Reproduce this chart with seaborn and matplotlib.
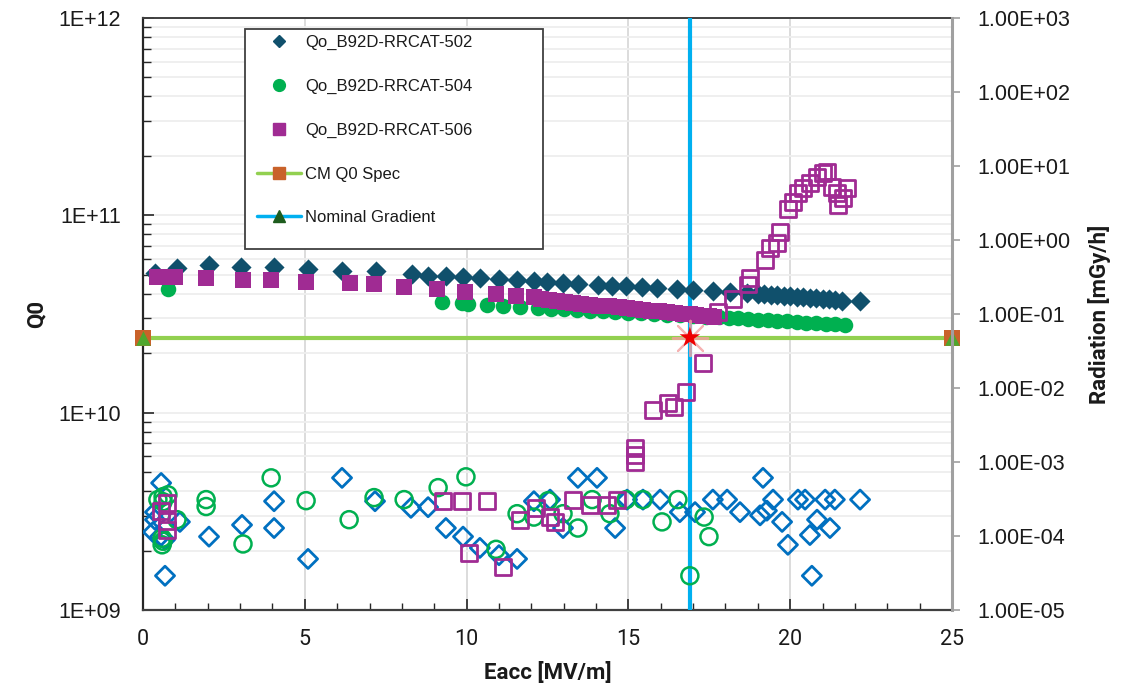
import numpy as np
import matplotlib
matplotlib.use("Agg")
import matplotlib.pyplot as plt
import seaborn as sns
from matplotlib.lines import Line2D
from matplotlib.patches import Rectangle
from matplotlib.ticker import LogLocator, FuncFormatter, MultipleLocator, NullLocator

# ---------------------------------------------------------------- data
# Q0 vs accelerating gradient (left axis, units of 1e10)
eacc_502 = [0.37, 1.05, 2.04, 3.03, 4.05, 5.10, 6.15, 7.20, 8.31, 8.81, 9.36, 9.89,
            10.41, 11.00, 11.56, 12.08, 12.48, 12.98, 13.44, 14.06, 14.49, 14.93,
            15.42, 15.88, 16.50, 17.00, 17.61, 18.14, 18.67, 19.00, 19.20, 19.40,
            19.60, 19.80, 20.00, 20.20, 20.40, 20.60, 20.80, 21.00, 21.20, 21.40,
            21.60, 22.16]
q0_502 = np.array([5.10, 5.40, 5.60, 5.50, 5.50, 5.35, 5.20, 5.20, 5.05, 4.95, 4.90, 4.85,
                   4.80, 4.75, 4.70, 4.65, 4.60, 4.55, 4.50, 4.45, 4.40, 4.40,
                   4.35, 4.30, 4.25, 4.20, 4.15, 4.10, 4.05, 4.00, 4.00, 3.95,
                   3.95, 3.90, 3.90, 3.85, 3.85, 3.80, 3.80, 3.75, 3.75, 3.72,
                   3.70, 3.70]) * 1e10

eacc_504 = [0.77, 9.24, 9.86, 10.04, 10.63, 11.12, 11.65, 12.20, 12.60, 13.00, 13.40,
            13.80, 14.20, 14.60, 15.00, 15.40, 15.80, 16.20, 16.60, 17.00, 17.40,
            17.80, 18.10, 18.40, 18.70, 19.00, 19.30, 19.60, 19.90, 20.20, 20.50,
            20.80, 21.10, 21.40, 21.70]
q0_504 = np.array([4.24, 3.64, 3.60, 3.57, 3.53, 3.49, 3.45, 3.40, 3.37, 3.34, 3.31,
                   3.28, 3.26, 3.23, 3.20, 3.18, 3.15, 3.13, 3.11, 3.09, 3.07,
                   3.05, 3.02, 3.00, 2.98, 2.96, 2.94, 2.92, 2.90, 2.88, 2.86,
                   2.84, 2.82, 2.80, 2.78]) * 1e10

eacc_506 = [0.43, 0.74, 0.99, 1.95, 3.09, 3.96, 5.04, 6.40, 7.14, 8.07, 9.09, 9.95,
            10.91, 11.53, 12.08, 12.30, 12.55, 12.80, 13.05, 13.30, 13.55, 13.80,
            14.10, 14.40, 14.70, 14.95, 15.20, 15.45, 15.70, 15.95, 16.20, 16.45,
            16.70, 16.90, 17.10, 17.30, 17.50, 17.65]
q0_506 = np.array([4.86, 4.86, 4.86, 4.81, 4.70, 4.70, 4.60, 4.54, 4.48, 4.33, 4.24, 4.09,
                   4.00, 3.90, 3.86, 3.78, 3.72, 3.68, 3.64, 3.60, 3.56, 3.52,
                   3.49, 3.46, 3.42, 3.39, 3.35, 3.32, 3.29, 3.26, 3.23, 3.20,
                   3.17, 3.15, 3.12, 3.10, 3.08, 3.06]) * 1e10

# Radiation vs accelerating gradient (right axis, mGy/h)
rad_eacc_502 = [0.56, 0.37, 0.37, 0.31, 0.53, 0.68, 0.68, 1.14, 2.04, 3.06, 4.05, 4.05,
                5.10, 6.15, 7.17, 8.28, 8.81, 9.36, 9.89, 10.41, 11.00, 11.56, 12.08,
                12.58, 12.98, 13.44, 14.03, 14.59, 14.96, 15.45, 15.98, 16.59, 17.06,
                17.61, 18.05, 18.45, 19.07, 19.16, 19.28, 19.47, 19.75, 19.93, 20.24,
                20.46, 20.61, 20.67, 20.83, 21.08, 21.23, 21.38, 22.16]
rad_502 = [5.2e-4, 2.1e-4, 1.66e-4, 1.13e-4, 9.8e-5, 8.9e-5, 2.9e-5, 1.55e-4, 9.8e-5,
           1.41e-4, 2.95e-4, 1.28e-4, 4.9e-5, 6.1e-4, 2.95e-4, 2.4e-4, 2.45e-4, 1.28e-4,
           9.8e-5, 6.9e-5, 5.5e-5, 4.9e-5, 2.95e-4, 3.1e-4, 1.28e-4, 6.1e-4, 6.1e-4,
           1.28e-4, 3.1e-4, 3.1e-4, 3.1e-4, 2.1e-4, 2.1e-4, 3.1e-4, 3.1e-4, 2.1e-4,
           1.9e-4, 6.1e-4, 2.2e-4, 3.1e-4, 1.55e-4, 7.6e-5, 3.1e-4, 3.1e-4, 1.03e-4,
           2.9e-5, 1.66e-4, 3.1e-4, 1.28e-4, 3.1e-4, 3.1e-4]

rad_eacc_504 = [0.46, 0.62, 0.77, 0.62, 1.05, 0.59, 0.62, 0.59, 1.95, 1.95, 3.09, 3.96,
                5.04, 6.37, 7.14, 8.07, 9.12, 9.98, 10.91, 11.56, 12.08, 12.52, 12.98,
                13.44, 13.88, 14.43, 14.93, 15.45, 16.04, 16.53, 16.90, 17.34, 17.49]
rad_504 = [3.1e-4, 3.4e-4, 3.6e-4, 2.9e-4, 1.66e-4, 9.3e-5, 8.5e-5, 7.6e-5, 3.1e-4,
           2.5e-4, 7.8e-5, 6.1e-4, 3.0e-4, 1.66e-4, 3.3e-4, 3.1e-4, 4.5e-4, 6.3e-4,
           6.6e-5, 2.0e-4, 1.8e-4, 3.0e-4, 2.0e-4, 1.28e-4, 3.1e-4, 2.0e-4, 3.1e-4,
           3.1e-4, 1.55e-4, 3.1e-4, 2.9e-5, 1.8e-4, 9.8e-5]

rad_eacc_506 = [0.55, 0.74, 0.74, 0.74, 9.27, 9.86, 10.07, 10.63, 11.12, 11.65, 12.14,
                12.58, 12.73, 13.29, 13.81, 14.34, 14.65, 15.20, 15.20, 15.20, 15.76,
                16.22, 16.40, 16.78, 17.31, 17.77, 18.23, 18.70, 18.76, 19.22, 19.38,
                19.59, 19.68, 19.93, 20.09, 20.24, 20.40, 20.61, 20.83, 21.01, 21.14,
                21.29, 21.45, 21.63, 21.76, 21.48]
rad_506 = [2.2e-4, 2.8e-4, 1.6e-4, 1.2e-4, 2.95e-4, 2.95e-4, 5.9e-5, 2.95e-4, 3.8e-5,
           1.66e-4, 2.4e-4, 1.8e-4, 1.55e-4, 3.1e-4, 2.6e-4, 2.6e-4, 3.1e-4, 1.0e-3,
           1.24e-3, 1.55e-3, 5.0e-3, 6.3e-3, 5.6e-3, 8.9e-3, 2.2e-2, 0.107, 0.16, 0.25,
           0.31, 0.54, 0.78, 0.91, 1.29, 2.6, 3.3, 4.3, 5.0, 5.9, 7.1, 8.1, 8.4, 5.2,
           4.3, 3.7, 5.0, 2.96]

# Reference lines
spec_eacc = [0.0, 25.0]
spec_q0 = [2.4e10, 2.4e10]
nominal_eacc = [16.9, 16.9]
nominal_q0 = [1e9, 1e12]
op_eacc = [16.9]
op_q0 = [2.4e10]

series_labels = ["Qo_B92D-RRCAT-502", "Qo_B92D-RRCAT-504", "Qo_B92D-RRCAT-506",
                 "CM Q0 Spec", "Nominal Gradient"]

# ---------------------------------------------------------------- style
C_502 = "#10506C"
C_504 = "#00B050"
C_506 = "#A02B93"
C_502_RAD = "#0070C0"
C_SPEC = "#92D050"
C_NOM = "#00B0F0"
C_ORANGE = "#C9622A"
C_TRI = "#4EA72E"
C_TRI_DARK = "#1E5C1E"

sns.set_theme(style="white")
plt.rcParams["font.family"] = ["Liberation Sans", "DejaVu Sans"]
LABEL_FONT = ["Roboto", "DejaVu Sans"]

fig = plt.figure(figsize=(11.27, 6.88), dpi=100)
ax = fig.add_axes([0.1269, 0.1134, 0.7178, 0.8605])
ax.set_yscale("log")
ax2 = ax.twinx()
ax2.set_yscale("log")
ax.set_zorder(1)
ax2.set_zorder(2)
ax2.patch.set_visible(False)

# reference lines
sns.lineplot(x=spec_eacc, y=spec_q0, ax=ax, color=C_SPEC, lw=3, estimator=None,
             sort=False, zorder=3, marker="s", markersize=11, markerfacecolor=C_ORANGE,
             markeredgecolor=C_ORANGE, markeredgewidth=0, clip_on=False)
sns.scatterplot(x=spec_eacc, y=spec_q0, ax=ax, marker="^", s=110, color=C_TRI,
                edgecolor=C_TRI, linewidth=0, zorder=4, clip_on=False)
sns.lineplot(x=nominal_eacc, y=nominal_q0, ax=ax, color=C_NOM, lw=3, estimator=None,
             sort=False, zorder=3)

# Q0 series (filled markers)
sns.scatterplot(x=eacc_502, y=q0_502, ax=ax, marker="D", s=105, color=C_502,
                edgecolor=C_502, linewidth=0, zorder=5)
sns.scatterplot(x=eacc_504, y=q0_504, ax=ax, marker="o", s=125, color=C_504,
                edgecolor=C_504, linewidth=0, zorder=5)
sns.scatterplot(x=eacc_506, y=q0_506, ax=ax, marker="s", s=135, color=C_506,
                edgecolor=C_506, linewidth=0, zorder=6)

# operating point with a soft burst behind it
sns.scatterplot(x=op_eacc, y=op_q0, ax=ax, marker=(8, 2, 0), s=650, color="#F4A0A0",
                edgecolor="#F4A0A0", linewidth=1.5, alpha=0.8, zorder=7)
sns.scatterplot(x=op_eacc, y=op_q0, ax=ax, marker="*", s=240, color="#EE0000",
                edgecolor="none", zorder=8)

# Radiation series (open markers)
sns.scatterplot(x=rad_eacc_502, y=rad_502, ax=ax2, marker="D", s=95, color=C_502_RAD,
                facecolor="none", edgecolor=C_502_RAD, linewidth=2.0, zorder=5)
sns.scatterplot(x=rad_eacc_504, y=rad_504, ax=ax2, marker="o", s=150, color=C_504,
                facecolor="none", edgecolor=C_504, linewidth=1.8, zorder=5)
sns.scatterplot(x=rad_eacc_506, y=rad_506, ax=ax2, marker="s", s=130, color=C_506,
                facecolor="none", edgecolor=C_506, linewidth=2.0, zorder=6)

# ---------------------------------------------------------------- axes
ax.set_xlim(0, 25)
ax.set_ylim(1e9, 1e12)
ax2.set_ylim(1e-5, 1e3)

ax.xaxis.set_major_locator(MultipleLocator(5))
ax.xaxis.set_minor_locator(MultipleLocator(1))
ax.yaxis.set_major_locator(LogLocator(base=10, numticks=10))
ax.yaxis.set_minor_locator(LogLocator(base=10, subs=np.arange(2, 10), numticks=20))
ax.yaxis.set_major_formatter(FuncFormatter(lambda v, p: f"1E+{int(round(np.log10(v))):02d}"))
ax2.yaxis.set_major_locator(LogLocator(base=10, numticks=20))
ax2.yaxis.set_minor_locator(NullLocator())
ax2.yaxis.set_major_formatter(FuncFormatter(lambda v, p: f"{v:.2E}"))
for a in (ax, ax2):
    a.xaxis.offsetText.set_visible(False)
    a.yaxis.offsetText.set_visible(False)
ax2.xaxis.label.set_visible(False)

ax.set_axisbelow(True)
ax.grid(True, which="major", axis="x", color="#D9D9D9", lw=1.3)
ax.grid(True, which="both", axis="y", color="#EEEEEE", lw=1.3)

for s in ["left", "bottom", "top"]:
    ax.spines[s].set_visible(True)
ax.spines["left"].set_color("#262626")
ax.spines["left"].set_linewidth(1.6)
ax.spines["bottom"].set_color("#404040")
ax.spines["bottom"].set_linewidth(1.6)
ax.spines["top"].set_color("#404040")
ax.spines["top"].set_linewidth(1.4)
ax.spines["right"].set_visible(False)
for s in ["left", "bottom", "top"]:
    ax2.spines[s].set_visible(False)
ax2.spines["right"].set_visible(True)
ax2.spines["right"].set_color("#A0A0A0")
ax2.spines["right"].set_linewidth(2.2)

ax.tick_params(axis="y", which="major", direction="in", length=8, width=1.2,
               color="#262626", labelsize=15.5, pad=16, left=True, labelcolor="#1A1A1A")
ax.tick_params(axis="y", which="minor", direction="in", length=6, width=1.0,
               color="#262626", left=True)
ax.tick_params(axis="x", which="major", direction="in", length=8, width=1.2,
               color="#262626", labelsize=15.5, pad=14, bottom=True, labelcolor="#1A1A1A")
ax.tick_params(axis="x", which="minor", direction="in", length=5, width=1.0,
               color="#262626", bottom=True)
for lbl in ax.get_xticklabels():
    lbl.set_family(LABEL_FONT)
ax2.tick_params(axis="y", which="major", direction="out", length=6, width=1.2,
                color="#A0A0A0", labelsize=15.5, pad=12, right=True, labelcolor="#1A1A1A")

ax.set_xlabel("Eacc [MV/m]", fontfamily=LABEL_FONT, fontweight="bold", fontsize=16,
              color="#1A1A1A")
ax.set_ylabel("Q0", fontfamily=LABEL_FONT, fontweight="bold", fontsize=16, color="#1A1A1A")
ax2.set_ylabel("Radiation [mGy/h]", fontfamily=LABEL_FONT, fontweight="bold", fontsize=16,
               color="#1A1A1A")
ax.xaxis.set_label_coords(0.5, -0.088)
ax.yaxis.set_label_coords(-0.118, 0.5)
ax2.yaxis.set_label_coords(1.168, 0.5)

# ---------------------------------------------------------------- legend
ax.add_patch(Rectangle((0.126, 0.6098), 0.368, 0.3712, transform=ax.transAxes,
                       facecolor="white", edgecolor="#404040", lw=1.3, zorder=20))
handles = [
    Line2D([], [], ls="none", marker="D", ms=6.5, color=C_502),
    Line2D([], [], ls="none", marker="o", ms=8.5, color=C_504),
    Line2D([], [], ls="none", marker="s", ms=8, color=C_506),
    Line2D([], [], color=C_SPEC, lw=2.5, marker="s", ms=8, mfc=C_ORANGE, mec=C_ORANGE),
    Line2D([], [], color=C_NOM, lw=2.5, marker="^", ms=9, mfc=C_TRI_DARK, mec=C_TRI_DARK),
]
leg = ax.legend(handles, series_labels, loc="upper left", bbox_to_anchor=(0.1409, 0.971),
                frameon=False, fontsize=12, borderpad=0, borderaxespad=0,
                handlelength=2.64, handletextpad=0.25, labelspacing=1.72)
leg.set_zorder(21)
for t in leg.get_texts():
    t.set_color("#1A1A1A")

fig.savefig("out.png", dpi=100)
